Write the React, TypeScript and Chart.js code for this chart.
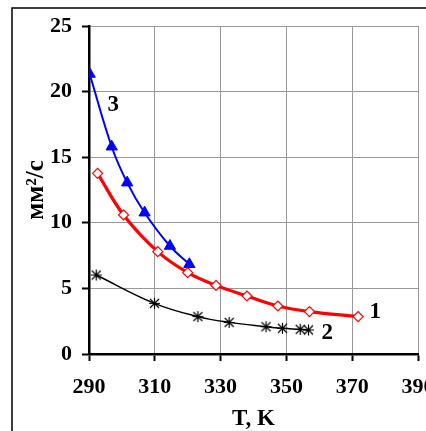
import React, { useEffect, useRef } from "react";
import { Chart, registerables } from "chart.js";

Chart.register(...registerables);

// Curve 1 (red, diamonds)
const tempRed = [292.6, 300.5, 310.9, 320.0, 328.6, 338.0, 347.4, 357.0, 371.8];
const viscRed = [13.77, 10.6, 7.8, 6.2, 5.23, 4.42, 3.66, 3.23, 2.85];
// Curve 2 (black, asterisks)
const tempBlack = [292.2, 309.9, 323.1, 332.6, 343.8, 348.8, 354.2, 356.7];
const viscBlack = [6.02, 3.86, 2.85, 2.41, 2.08, 1.96, 1.88, 1.83];
// Curve 3 (blue, triangles)
const tempBlue = [290.2, 296.9, 301.6, 306.9, 314.6, 320.5];
const viscBlue = [21.34, 15.8, 13.06, 10.77, 8.23, 6.84];

const curveLabels = ["1", "2", "3"];
const labelAnchorsT = [377, 362.4, 297.4];
const labelAnchorsV = [3.2, 1.6, 19.0];

const xTitle = "T, K";
const yTitle = "мм²/с";

const FONT = "'Liberation Serif', 'Times New Roman', serif";

function makeAsterisk(): HTMLCanvasElement {
  const c = document.createElement("canvas");
  c.width = 13;
  c.height = 13;
  const g = c.getContext("2d")!;
  g.strokeStyle = "#000";
  g.lineWidth = 1.2;
  g.beginPath();
  g.moveTo(6.5, 1);
  g.lineTo(6.5, 12);
  g.moveTo(2, 2);
  g.lineTo(11, 11);
  g.moveTo(11, 2);
  g.lineTo(2, 11);
  g.moveTo(1, 6.5);
  g.lineTo(12, 6.5);
  g.stroke();
  return c;
}

const zip = (xs: number[], ys: number[]) => xs.map((x, i) => ({ x, y: ys[i] }));

export default function App() {
  const ref = useRef<HTMLCanvasElement | null>(null);
  useEffect(() => {
    if (!ref.current) return;
    const frame = {
      id: "frame",
      afterDraw(chart: any) {
        const ctx = chart.ctx;
        ctx.save();
        ctx.strokeStyle = "#000";
        ctx.lineWidth = 1.5;
        ctx.beginPath();
        ctx.moveTo(12, 431);
        ctx.lineTo(12, 8);
        ctx.lineTo(426, 8);
        ctx.stroke();
        const xs = chart.scales.x;
        const ys = chart.scales.y;
        ctx.fillStyle = "#000";
        ctx.font = `bold 23px ${FONT}`;
        ctx.textAlign = "center";
        ctx.textBaseline = "middle";
        curveLabels.forEach((t, i) => {
          ctx.fillText(t, xs.getPixelForValue(labelAnchorsT[i]), ys.getPixelForValue(labelAnchorsV[i]));
        });
        ctx.restore();
      },
    };
    const chart = new Chart(ref.current, {
      type: "scatter",
      data: {
        datasets: [
          {
            data: zip(tempBlack, viscBlack),
            showLine: true,
            borderColor: "#000",
            borderWidth: 1.5,
            pointStyle: makeAsterisk() as any,
            pointRadius: 6,
            tension: 0.4,
          },
          {
            data: zip(tempRed, viscRed),
            showLine: true,
            borderColor: "#ff0000",
            borderWidth: 3.2,
            pointStyle: "rectRot",
            pointRadius: 5,
            pointBorderWidth: 1.2,
            pointBorderColor: "#ff0000",
            pointBackgroundColor: "#ffffff",
            tension: 0.4,
          },
          {
            data: zip(tempBlue, viscBlue),
            showLine: true,
            borderColor: "#0000ff",
            borderWidth: 2,
            pointStyle: "triangle",
            pointRadius: 6.5,
            pointBorderWidth: 1,
            pointBorderColor: "#0000ff",
            pointBackgroundColor: "#0000ff",
            tension: 0.4,
          },
        ],
      },
      options: {
        responsive: false,
        animation: false,
        layout: { padding: { top: 26, right: 8, left: 0, bottom: 0 } },
        plugins: { legend: { display: false }, tooltip: { enabled: false } },
        scales: {
          x: {
            type: "linear",
            min: 290,
            max: 390,
            ticks: {
              stepSize: 20,
              color: "#000",
              padding: 13,
              font: { family: FONT, size: 22, weight: "bold" },
            },
            grid: { color: "#999999", lineWidth: 1, tickLength: 7, tickColor: "#000", tickWidth: 2 },
            border: { color: "#000", width: 2.5 },
            title: {
              display: true,
              text: xTitle,
              color: "#000",
              padding: 0,
              font: { family: FONT, size: 23, weight: "bold", lineHeight: 1 },
            },
            afterFit(scale: any) {
              scale.height = 77;
              scale.paddingLeft = 0;
              scale.paddingRight = 0;
            },
          },
          y: {
            type: "linear",
            min: 0,
            max: 25,
            ticks: {
              stepSize: 5,
              color: "#000",
              padding: 10,
              font: { family: FONT, size: 22, weight: "bold" },
            },
            grid: { color: "#999999", lineWidth: 1, tickLength: 7, tickColor: "#000", tickWidth: 2 },
            border: { color: "#000", width: 2.5 },
            title: {
              display: true,
              text: yTitle,
              color: "#000",
              padding: { top: 24, bottom: 0 },
              font: { family: FONT, size: 25, weight: "bold", lineHeight: 1 },
            },
            afterFit(scale: any) {
              scale.width = 89;
              scale.paddingTop = 0;
              scale.paddingBottom = 0;
            },
          },
        },
      },
      plugins: [frame],
    } as any);
    return () => chart.destroy();
  }, []);
  return (
    <div style={{ position: "absolute", left: 0, top: 0, width: 426, height: 431, background: "#fff" }}>
      <canvas ref={ref} width={426} height={431} />
    </div>
  );
}
